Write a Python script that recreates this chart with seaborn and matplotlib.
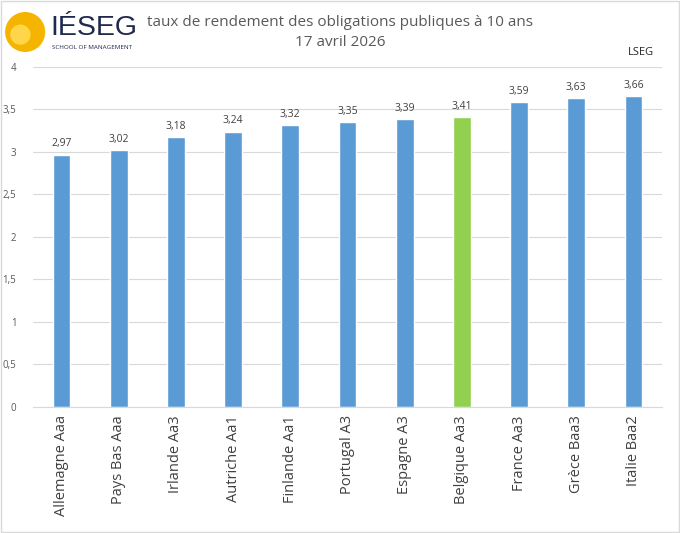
import matplotlib
matplotlib.use("Agg")
import matplotlib.pyplot as plt
import matplotlib.patches as mpatches
import seaborn as sns
import pandas as pd

countries = ["Allemagne Aaa", "Pays Bas Aaa", "Irlande Aa3", "Autriche Aa1", "Finlande Aa1",
             "Portugal A3", "Espagne A3", "Belgique Aa3", "France Aa3", "Grèce Baa3", "Italie Baa2"]
yields = [2.97, 3.02, 3.18, 3.24, 3.32, 3.35, 3.39, 3.41, 3.59, 3.63, 3.66]
highlight = "Belgique Aa3"

blue = "#5B9BD5"
green = "#92D050"

df = pd.DataFrame({"pays": countries, "taux": yields})
palette = {c: (green if c == highlight else blue) for c in countries}

sns.set_style("white")
plt.rcParams["font.family"] = ["Open Sans", "DejaVu Sans"]

fig = plt.figure(figsize=(6.8, 5.33), dpi=100)
ax = fig.add_axes([0.0485, 0.2364, 0.925, 0.638])

sns.barplot(data=df, x="pays", y="taux", hue="pays", palette=palette,
            width=0.31, legend=False, ax=ax, saturation=1)

ax.set_ylim(0, 4)
ax.set_xlim(-0.5, len(countries) - 0.5)
ax.set_yticks([0, 0.5, 1, 1.5, 2, 2.5, 3, 3.5, 4])
ax.set_yticklabels([f"{t:g}".replace(".", ",") for t in ax.get_yticks()])
ax.yaxis.grid(True, color="#D9D9D9", linewidth=0.8)
ax.set_axisbelow(True)
for s in ["top", "right", "left"]:
    ax.spines[s].set_visible(False)
ax.spines["bottom"].set_color("#D9D9D9")
ax.set_xlabel("")
ax.set_ylabel("")
ax.tick_params(axis="y", length=0, labelsize=7, labelcolor="#595959", pad=12)
ax.tick_params(axis="x", length=0, labelsize=10.5, labelcolor="#404040", pad=6)
plt.setp(ax.get_xticklabels(), rotation=90)

for i, v in enumerate(yields):
    ax.text(i, v + 0.06, f"{v:.2f}".replace(".", ","), ha="center", va="bottom",
            fontsize=7.5, color="#404040")

fig.text(0.5, 0.958, "taux de rendement des obligations publiques à 10 ans",
         ha="center", va="center", fontsize=11, color="#595959")
fig.text(0.5, 0.921, "17 avril 2026", ha="center", va="center", fontsize=11, color="#595959")
fig.text(0.943, 0.902, "LSEG", ha="center", va="center", fontsize=8, color="#262626")

# logo
fig.patches.append(mpatches.Ellipse((0.037, 0.94), 0.059, 0.075, transform=fig.transFigure,
                                    facecolor="#F5B400", edgecolor="none"))
fig.patches.append(mpatches.Ellipse((0.03, 0.935), 0.03, 0.038, transform=fig.transFigure,
                                    facecolor="#FFD54A", edgecolor="none"))
fig.text(0.074, 0.948, "IÉSEG", ha="left", va="center", fontsize=20.5, color="#1F2A4D",
         family=["Liberation Sans", "DejaVu Sans"])
fig.text(0.076, 0.91, "SCHOOL OF MANAGEMENT", ha="left", va="center", fontsize=4.5,
         color="#1F2A4D")

fig.patches.append(mpatches.Rectangle((0.002, 0.002), 0.996, 0.996, transform=fig.transFigure,
                                      facecolor="none", edgecolor="#D9D9D9", linewidth=1))

fig.savefig("out.png", dpi=100)
